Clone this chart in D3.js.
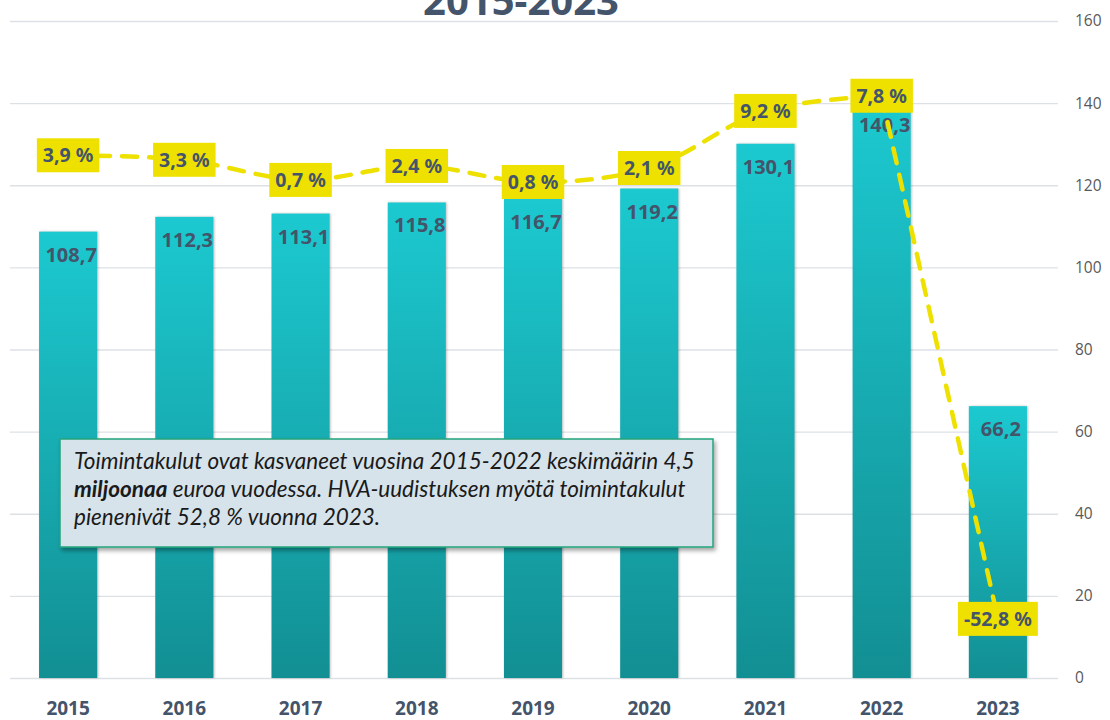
<!DOCTYPE html>
<html>
<head>
<meta charset="utf-8">
<script src="https://cdn.jsdelivr.net/npm/d3@7"></script>
<style>
  body { margin: 0; background: #fff; }
  svg { display: block; }
</style>
</head>
<body>
<div id="chart"></div>
<script>
"use strict";

// data
var years = ["2015", "2016", "2017", "2018", "2019", "2020", "2021", "2022", "2023"];
var costs = [108.7, 112.3, 113.1, 115.8, 116.7, 119.2, 130.1, 140.3, 66.2];
var changeLabels = ["3,9 %", "3,3 %", "0,7 %", "2,4 %", "0,8 %", "2,1 %", "9,2 %", "7,8 %", "-52,8 %"];
// height of the dashed change line, in units of the value axis
var changeLevel = [127.3, 126.2, 121.3, 124.7, 120.8, 124.2, 138.1, 141.8, 14.4];
var yTicks = [0, 20, 40, 60, 80, 100, 120, 140, 160];
var noteLines = [
  ["Toimintakulut ovat kasvaneet vuosina 2015-2022 keskimäärin 4,5"],
  ["miljoonaa", " euroa vuodessa. HVA-uudistuksen myötä toimintakulut"],
  ["pienenivät 52,8 % vuonna 2023."]
];

var W = 1110, H = 720;
var textColor = "#44546A";
var yellow = "#EEE100";

var svg = d3.select("#chart").append("svg")
  .attr("width", W)
  .attr("height", H);

var defs = svg.append("defs");
var grad = defs.append("linearGradient")
  .attr("id", "barGrad")
  .attr("x1", 0).attr("y1", 0).attr("x2", 0).attr("y2", 1);
grad.append("stop").attr("offset", "0%").attr("stop-color", "#1CC9D0");
grad.append("stop").attr("offset", "100%").attr("stop-color", "#128F93");

var shadow = defs.append("filter").attr("id", "shadow")
  .attr("x", "-5%").attr("y", "-10%").attr("width", "115%").attr("height", "130%");
shadow.append("feDropShadow")
  .attr("dx", 2).attr("dy", 3).attr("stdDeviation", 2)
  .attr("flood-color", "#000").attr("flood-opacity", 0.35);

var x = d3.scaleBand()
  .domain(years)
  .range([10, 1056])
  .paddingInner(0.5)
  .paddingOuter(0.25);

var y = d3.scaleLinear()
  .domain([0, 160])
  .range([678, 21]);

// Gridlines
svg.append("g").selectAll("line")
  .data(yTicks)
  .join("line")
  .attr("x1", 10)
  .attr("x2", 1058)
  .attr("y1", d => y(d) + 0.5)
  .attr("y2", d => y(d) + 0.5)
  .attr("stroke", "#DDE1E6")
  .attr("stroke-width", 1.3);

// Title (cut off at the top like in the original)
svg.append("text")
  .attr("x", 521)
  .attr("y", 15)
  .attr("text-anchor", "middle")
  .attr("font-family", "'Noto Sans', sans-serif")
  .attr("font-weight", "bold")
  .attr("font-size", "40px")
  .attr("fill", textColor)
  .text("2015-2023");

// Right axis
var yAxis = svg.append("g")
  .attr("transform", "translate(1072,0)")
  .call(d3.axisRight(y).tickValues(yTicks).tickSize(0).tickPadding(3).tickFormat(d3.format("d")));
yAxis.select(".domain").remove();
yAxis.selectAll("text")
  .attr("font-family", "'Open Sans', sans-serif")
  .attr("font-size", "15.5px")
  .attr("fill", "#595959");

// Bars
svg.append("g").selectAll("rect")
  .data(costs)
  .join("rect")
  .attr("x", (d, i) => x(years[i]))
  .attr("y", d => y(d))
  .attr("width", x.bandwidth())
  .attr("height", d => y(0) - y(d))
  .attr("fill", "url(#barGrad)")
  .style("filter", "drop-shadow(1px 0px 1px rgba(0,0,0,0.25))");

// Bar value labels
svg.append("g").selectAll("text")
  .data(costs)
  .join("text")
  .attr("x", (d, i) => x(years[i]) + x.bandwidth() / 2 + 3)
  .attr("y", d => y(d) + 30)
  .attr("text-anchor", "middle")
  .attr("font-family", "'Noto Sans', sans-serif")
  .attr("font-weight", "bold")
  .attr("font-size", "20px")
  .attr("fill", textColor)
  .text(d => d3.format(".1f")(d).replace(".", ","));

// X axis
var xAxis = svg.append("g")
  .attr("transform", "translate(0,697)")
  .call(d3.axisBottom(x).tickSize(0).tickPadding(0));
xAxis.select(".domain").remove();
xAxis.selectAll("text")
  .attr("font-family", "'Noto Sans', sans-serif")
  .attr("font-weight", "bold")
  .attr("font-size", "19px")
  .attr("fill", textColor)
  .attr("dy", "0.95em");

// Dashed change line: smooth up to 2022, then a near straight drop to 2023
var linePts = changeLevel.map((v, i) => [x(years[i]) + x.bandwidth() / 2, y(v)]);
var n = linePts.length;
var dashed = svg.append("g")
  .attr("fill", "none")
  .attr("stroke", yellow)
  .attr("stroke-width", 4.5)
  .attr("stroke-dasharray", "15,12")
  .attr("stroke-linecap", "round");
dashed.append("path")
  .datum(linePts.slice(0, n - 1))
  .attr("d", d3.line().curve(d3.curveCatmullRom.alpha(0.5)));
dashed.append("path")
  .datum(linePts.slice(n - 2))
  .attr("d", d3.line().curve(d3.curveBundle.beta(0.95)));

// Change labels in yellow boxes
var lg = svg.append("g").selectAll("g")
  .data(linePts)
  .join("g")
  .attr("transform", d => "translate(" + d[0] + "," + d[1] + ")");
var lt = lg.append("text")
  .attr("text-anchor", "middle")
  .attr("dy", "0.36em")
  .attr("font-family", "'Noto Sans', sans-serif")
  .attr("font-weight", "bold")
  .attr("font-size", "19.5px")
  .attr("fill", textColor)
  .text((d, i) => changeLabels[i]);
lt.each(function() {
  var bb = this.getBBox();
  d3.select(this.parentNode).insert("rect", "text")
    .attr("x", bb.x - 6)
    .attr("y", -17)
    .attr("width", bb.width + 12)
    .attr("height", 34)
    .attr("fill", yellow);
});

// Annotation box
var note = svg.append("g");
note.append("rect")
  .attr("x", 60)
  .attr("y", 439)
  .attr("width", 653)
  .attr("height", 108)
  .attr("fill", "#D7E3EB")
  .attr("stroke", "#23A57C")
  .attr("stroke-width", 1.5)
  .style("filter", "url(#shadow)");
var nt = note.selectAll("text")
  .data(noteLines)
  .join("text")
  .attr("x", 74)
  .attr("y", (d, i) => 469 + i * 28)
  .attr("font-family", "Lato, sans-serif")
  .attr("font-style", "italic")
  .attr("font-size", "22.5px")
  .attr("fill", "#1A1A1A");
nt.selectAll("tspan")
  .data(d => d)
  .join("tspan")
  .attr("font-weight", d => d === "miljoonaa" ? "bold" : null)
  .text(d => d);
</script>
</body>
</html>
